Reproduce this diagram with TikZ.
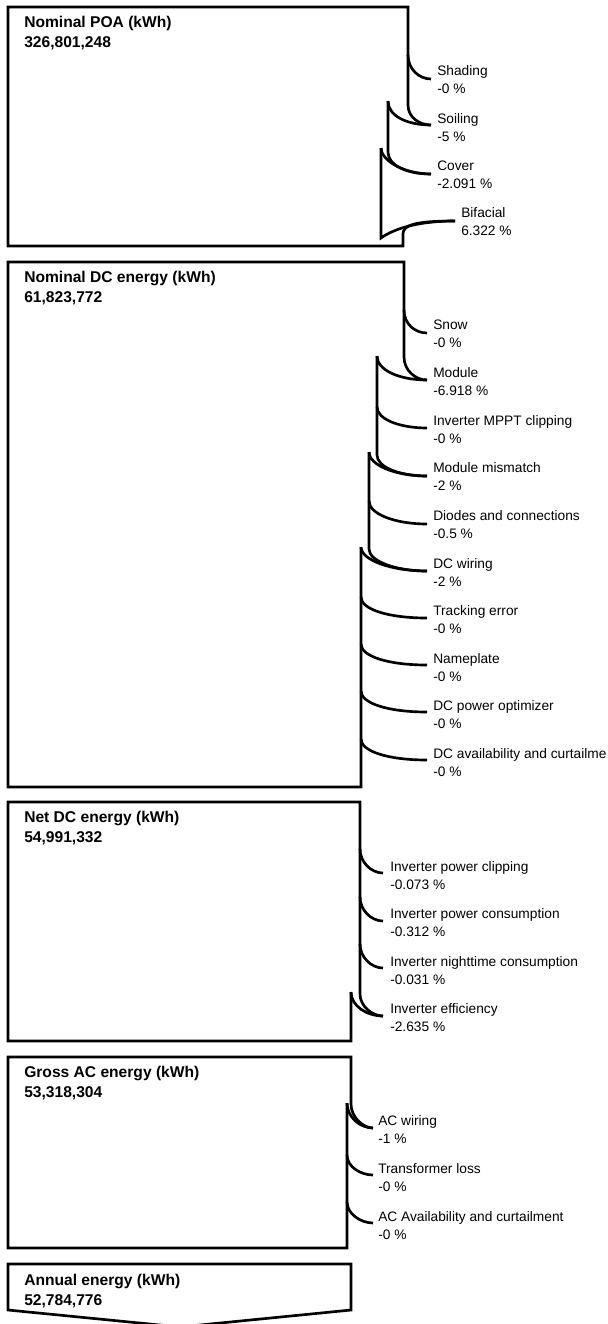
\documentclass[tikz,border=0pt]{standalone}
\usepackage{fontspec}
\setmainfont{Liberation Sans}
\begin{document}
\begin{tikzpicture}[x=0.75pt,y=-0.75pt,
  edge/.style={line width=2pt,line join=miter,line cap=butt},
  lbl/.style={anchor=west,inner sep=0pt,align=left,font=\fontsize{10.3}{13.5}\selectfont},
  ttl/.style={anchor=west,inner sep=0pt,align=left,font=\bfseries\fontsize{11.7}{15}\selectfont}]
\useasboundingbox (0,0) rectangle (607,1324);
\clip (0,0) rectangle (607,1324);

% ---------- titles ----------
\node[ttl] (t1) at (24,33.5) {Nominal POA (kWh)\\326,801,248};
\node[ttl] (t2) at (24,288.5) {Nominal DC energy (kWh)\\61,823,772};
\node[ttl] (t3) at (24,828.5) {Net DC energy (kWh)\\54,991,332};
\node[ttl] (t4) at (24,1083.5) {Gross AC energy (kWh)\\53,318,304};
\node[ttl] (t5) at (24,1291) {Annual energy (kWh)\\52,784,776};

% ---------- box 1 ----------
\node[lbl] (lsh) at (437,80) {Shading\\-0 \%};
\node[lbl] (lso) at (437,128) {Soiling\\-5 \%};
\node[lbl] (lco) at (437,175) {Cover\\-2.091 \%};
\node[lbl] (lbi) at (461,222) {Bifacial\\6.322 \%};
\coordinate (esh) at (431,79);
\coordinate (eso) at (431,125);
\coordinate (eco) at (431,174);
\coordinate (ebi) at (455,221);
\coordinate (ssh) at (408,55);
\coordinate (sso) at (388,101);
\coordinate (sco) at (381,148);

\draw[edge] (ebi) .. controls +(-40,0) and +(0,-9) .. (403,234) -- (403,246) -- (8,246) -- (8,7) -- (408,7) -- (408,105) .. controls +(0,12) and +(-12,0) .. (eso);
\draw[edge] (ssh) .. controls +(0,14) and +(-12,0) .. (esh);
\draw[edge] (sso) .. controls +(0,15) and +(-24,0) .. (eso);
\draw[edge] (sso) -- (388,152) .. controls +(0,13) and +(-25,0) .. (eco);
\draw[edge] (sco) .. controls +(0,12) and +(-28,0) .. (eco);
\draw[edge] (sco) -- (381,238) .. controls (395,228) and (420,221) .. (ebi);

% ---------- box 2 ----------
\node[lbl] (lsn) at (433,334) {Snow\\-0 \%};
\node[lbl] (lmo) at (433,382) {Module\\-6.918 \%};
\node[lbl] (lmp) at (433,430) {Inverter MPPT clipping\\-0 \%};
\node[lbl] (lmm) at (433,477) {Module mismatch\\-2 \%};
\node[lbl] (ldi) at (433,525) {Diodes and connections\\-0.5 \%};
\node[lbl] (ldw) at (433,573) {DC wiring\\-2 \%};
\node[lbl] (ltr) at (433,620) {Tracking error\\-0 \%};
\node[lbl] (lna) at (433,668) {Nameplate\\-0 \%};
\node[lbl] (lop) at (433,715) {DC power optimizer\\-0 \%};
\node[lbl] (lav) at (433,763) {DC availability and curtailme\\-0 \%};
\coordinate (esn) at (427,333);
\coordinate (emo) at (427,380);
\coordinate (emp) at (427,428);
\coordinate (emm) at (427,476);
\coordinate (edi) at (427,524);
\coordinate (edw) at (427,571);
\coordinate (etr) at (427,618);
\coordinate (ena) at (427,665);
\coordinate (eop) at (427,712);
\coordinate (eav) at (427,760);
\coordinate (ssn) at (404,310);
\coordinate (smo) at (377,356);
\coordinate (smp) at (377,407);
\coordinate (smm) at (369,452);
\coordinate (sdi) at (369,501);
\coordinate (sdw) at (361,547);
\coordinate (str) at (361,597);
\coordinate (sna) at (361,644);
\coordinate (sop) at (361,691);
\coordinate (sav) at (361,739);

\draw[edge] (sdw) -- (361,787) -- (8,787) -- (8,262) -- (404,262) -- (404,357) .. controls +(0,13) and +(-12,0) .. (emo);
\draw[edge] (ssn) .. controls +(0,14) and +(-12,0) .. (esn);
\draw[edge] (smo) .. controls +(0,14) and +(-28,0) .. (emo);
\draw[edge] (smo) -- (377,455) .. controls +(0,12) and +(-28,0) .. (emm);
\draw[edge] (smp) .. controls +(0,12) and +(-28,0) .. (emp);
\draw[edge] (smm) .. controls +(0,13) and +(-32,0) .. (emm);
\draw[edge] (smm) -- (369,549) .. controls +(0,12) and +(-32,0) .. (edw);
\draw[edge] (sdi) .. controls +(0,13) and +(-32,0) .. (edi);
\draw[edge] (sdw) .. controls +(0,13) and +(-36,0) .. (edw);
\draw[edge] (str) .. controls +(0,12) and +(-40,0) .. (etr);
\draw[edge] (sna) .. controls +(0,12) and +(-40,0) .. (ena);
\draw[edge] (sop) .. controls +(0,12) and +(-40,0) .. (eop);
\draw[edge] (sav) .. controls +(0,12) and +(-40,0) .. (eav);

% ---------- box 3 ----------
\node[lbl] (lpc) at (390,876) {Inverter power clipping\\-0.073 \%};
\node[lbl] (lpw) at (390,923) {Inverter power consumption\\-0.312 \%};
\node[lbl] (lni) at (390,971) {Inverter nighttime consumption\\-0.031 \%};
\node[lbl] (lef) at (390,1018) {Inverter efficiency\\-2.635 \%};
\coordinate (epc) at (383,873);
\coordinate (epw) at (383,921);
\coordinate (eni) at (383,968);
\coordinate (eef) at (383,1016);
\coordinate (spc) at (360,849);
\coordinate (spw) at (360,897);
\coordinate (sni) at (360,944);
\coordinate (sef) at (351,992);

\draw[edge] (sef) -- (351,1041) -- (8,1041) -- (8,802) -- (360,802) -- (360,994) .. controls +(0,12) and +(-11,0) .. (eef);
\draw[edge] (spc) .. controls +(0,13) and +(-12,0) .. (epc);
\draw[edge] (spw) .. controls +(0,13) and +(-12,0) .. (epw);
\draw[edge] (sni) .. controls +(0,13) and +(-12,0) .. (eni);
\draw[edge] (sef) .. controls +(0,14) and +(-16,0) .. (eef);

% ---------- box 4 ----------
\node[lbl] (law) at (378,1130) {AC wiring\\-1 \%};
\node[lbl] (ltl) at (378,1178) {Transformer loss\\-0 \%};
\node[lbl] (laa) at (378,1226) {AC Availability and curtailment\\-0 \%};
\coordinate (eaw) at (373,1128);
\coordinate (etl) at (373,1175);
\coordinate (eaa) at (373,1223);
\coordinate (saw) at (347,1103);
\coordinate (stl) at (347,1155);
\coordinate (saa) at (347,1202);

\draw[edge] (saw) -- (347,1248) -- (8,1248) -- (8,1057) -- (351,1057) -- (351,1104) .. controls +(0,13) and +(-10,0) .. (eaw);
\draw[edge] (saw) .. controls +(0,14) and +(-13,0) .. (eaw);
\draw[edge] (stl) .. controls +(0,12) and +(-12,0) .. (etl);
\draw[edge] (saa) .. controls +(0,12) and +(-12,0) .. (eaa);

% ---------- box 5 ----------
\draw[edge] (8,1310) -- (8,1264) -- (351,1264) -- (351,1310) -- (180,1327) -- cycle;
\end{tikzpicture}
\end{document}
